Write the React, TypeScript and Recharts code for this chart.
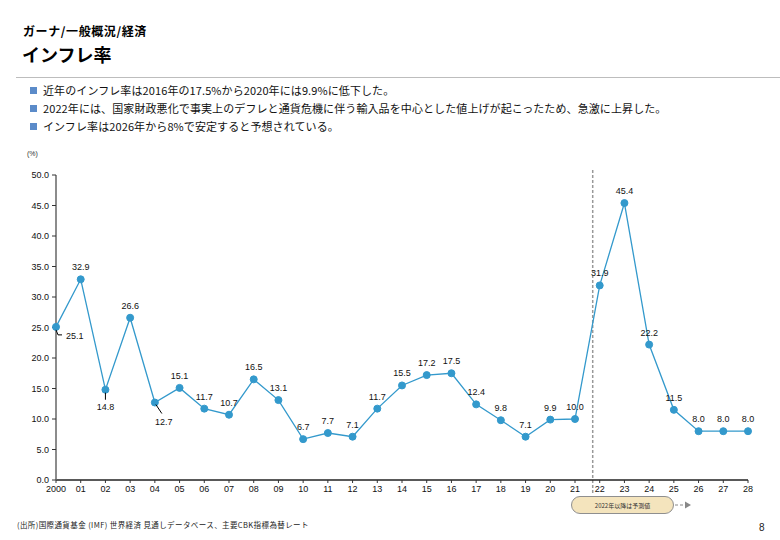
import React from "react";
import { LineChart, Line, XAxis, YAxis, LabelList, ReferenceLine } from "recharts";

const categories = ["2000","01","02","03","04","05","06","07","08","09","10","11","12","13","14","15","16","17","18","19","20","21","22","23","24","25","26","27","28"];
const inflation = [25.1,32.9,14.8,26.6,12.7,15.1,11.7,10.7,16.5,13.1,6.7,7.7,7.1,11.7,15.5,17.2,17.5,12.4,9.8,7.1,9.9,10.0,31.9,45.4,22.2,11.5,8.0,8.0,8.0];
const yTicks = [0,5,10,15,20,25,30,35,40,45,50];
const bullets = [
  "近年のインフレ率は2016年の17.5%から2020年には9.9%に低下した。",
  "2022年には、国家財政悪化で事実上のデフレと通貨危機に伴う輸入品を中心とした値上げが起こったため、急激に上昇した。",
  "インフレ率は2026年から8%で安定すると予想されている。",
];
const forecastStart = "22";
const forecastNote = "2022年以降は予測値";

const data = categories.map((c, i) => ({ year: c, value: inflation[i] }));

const FONT = "'Liberation Sans', 'Noto Sans CJK JP', sans-serif";
const CJK = "'Noto Sans CJK JP', 'Liberation Sans', sans-serif";
const LINE_COLOR = "#3399cc";

const renderLabel = (props: any) => {
  const { x, y, value, index } = props;
  const txt = Number(value).toFixed(1);
  const common = { fontSize: 9, fontFamily: FONT, fill: "#111" } as const;
  if (index === 0) {
    return (
      <g>
        <polyline points={`${x},${y + 3} ${x + 2},${y + 8} ${x + 6},${y + 8}`} fill="none" stroke="#000" strokeWidth={1} />
        <text x={x + 10} y={y + 12} {...common}>{txt}</text>
      </g>
    );
  }
  if (index === 2) {
    return (
      <g>
        <line x1={x} y1={y + 3} x2={x} y2={y + 10} stroke="#000" strokeWidth={1} />
        <text x={x} y={y + 20} textAnchor="middle" {...common}>{txt}</text>
      </g>
    );
  }
  if (index === 4) {
    return (
      <g>
        <line x1={x + 1} y1={y + 2} x2={x + 7} y2={y + 11} stroke="#000" strokeWidth={1} />
        <text x={x + 9} y={y + 22} textAnchor="middle" {...common}>{txt}</text>
      </g>
    );
  }
  return (
    <text x={x} y={y - 9} textAnchor="middle" {...common}>{txt}</text>
  );
};

const DashedForecast = (props: any) => {
  const { x1 } = props;
  const xx = (x1 ?? 0) - 7;
  return (
    <line x1={xx} x2={xx} y1={170} y2={494} stroke="#999" strokeWidth={1.5} strokeDasharray="3 2" />
  );
};

export default function App() {
  return (
    <div style={{ position: "absolute", left: 0, top: 0, width: 780, height: 540, background: "#fff", fontFamily: CJK, overflow: "hidden" }}>
      <div style={{ position: "absolute", left: 23, top: 24, fontSize: 12, fontWeight: 700, color: "#000", lineHeight: "14px", letterSpacing: 0.6 }}>ガーナ/一般概況/経済</div>
      <div style={{ position: "absolute", left: 22, top: 43, fontSize: 18, fontWeight: 700, color: "#000", lineHeight: "22px" }}>インフレ率</div>
      <div style={{ position: "absolute", left: 16, top: 77, width: 764, height: 1, background: "#bdbdbd" }} />
      {bullets.map((b, i) => (
        <div key={i} style={{ position: "absolute", left: 30, top: 83 + i * 18, height: 14, display: "flex", alignItems: "center" }}>
          <div style={{ width: 7, height: 7, background: "#5b8bc9", marginRight: 6 }} />
          <div style={{ fontSize: 11, color: "#111", whiteSpace: "nowrap", lineHeight: "14px", letterSpacing: 0.1 }}>{b}</div>
        </div>
      ))}
      <div style={{ position: "absolute", left: 27, top: 150, fontSize: 7, color: "#333", fontFamily: FONT }}>(%)</div>

      <div style={{ position: "absolute", left: 0, top: 0 }}>
        <LineChart width={780} height={540} data={data} margin={{ top: 175, right: 32, bottom: 40, left: 16 }}>
          <XAxis
            dataKey="year"
            tick={{ fontSize: 9, fill: "#111", fontFamily: FONT }}
            tickLine={{ stroke: "#333" }}
            axisLine={{ stroke: "#222", strokeWidth: 1.5 }}
            tickSize={3}
            tickMargin={3}
            interval={0}
            height={20}
          />
          <YAxis
            domain={[0, 50]}
            ticks={yTicks}
            tickFormatter={(v: number) => v.toFixed(1)}
            tick={{ fontSize: 9, fill: "#111", fontFamily: FONT }}
            tickLine={{ stroke: "#333" }}
            axisLine={{ stroke: "#666", strokeWidth: 1.5 }}
            tickSize={4}
            tickMargin={3}
            width={40}
            interval={0}
          />
          <ReferenceLine x={forecastStart} shape={DashedForecast} ifOverflow="visible" />
          <Line
            type="linear"
            dataKey="value"
            stroke={LINE_COLOR}
            strokeWidth={1.3}
            dot={{ r: 3.5, fill: LINE_COLOR, stroke: LINE_COLOR, strokeWidth: 1 }}
            isAnimationActive={false}
          >
            <LabelList dataKey="value" content={renderLabel} />
          </Line>
        </LineChart>
      </div>

      <div style={{ position: "absolute", left: 571, top: 496, width: 103, height: 18, borderRadius: 9, background: "#f4e4bd", border: "1px solid #8f8f8f", display: "flex", alignItems: "center", justifyContent: "center", fontSize: 6, color: "#333", boxSizing: "border-box" }}>{forecastNote}</div>
      <svg style={{ position: "absolute", left: 674, top: 500 }} width={20} height={10}>
        <line x1={1} y1={5} x2={11} y2={5} stroke="#888" strokeWidth={1} strokeDasharray="3 2" />
        <polygon points="11,1.5 17,5 11,8.5" fill="#888" />
      </svg>

      <div style={{ position: "absolute", left: 17, top: 519, fontSize: 7.5, color: "#222", whiteSpace: "nowrap", letterSpacing: 0.4 }}>(出所)国際通貨基金 (IMF) 世界経済 見通しデータベース、主要CBK指標為替レート</div>
      <div style={{ position: "absolute", left: 759, top: 522, fontSize: 10, color: "#222", fontFamily: FONT }}>8</div>
    </div>
  );
}
